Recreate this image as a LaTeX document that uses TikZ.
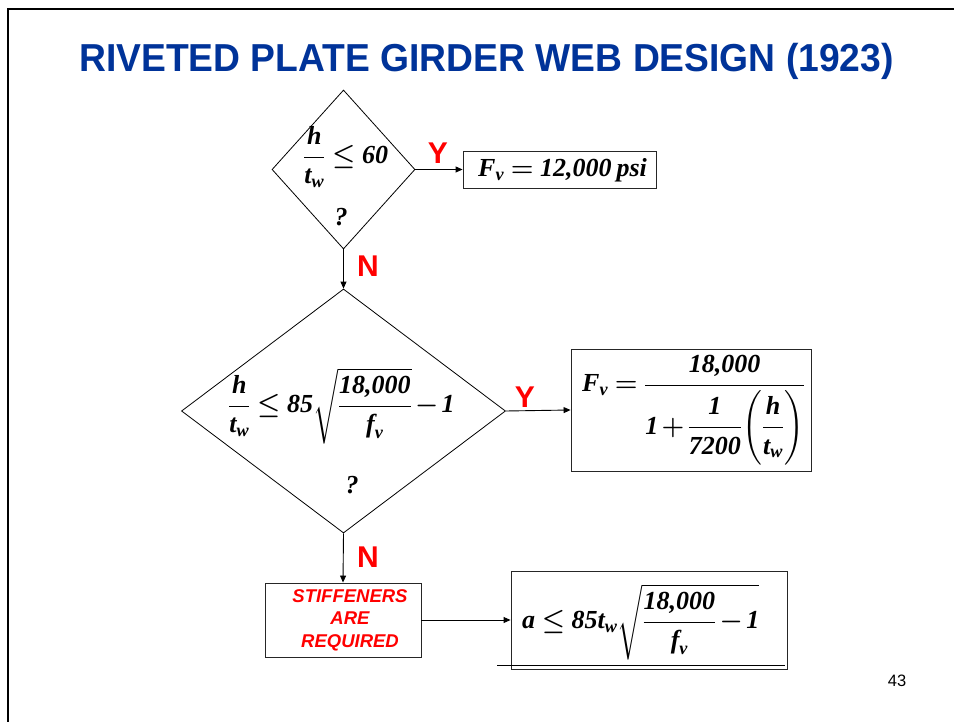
\RequirePackage{fix-cm}
\documentclass[tikz,border=0pt]{standalone}
\usepackage{amsmath}
\usepackage{graphicx}
\usepackage{fontspec}
\setmainfont{Liberation Serif}
\newfontfamily\arialf{Liberation Sans}
\usetikzlibrary{arrows.meta,shapes.geometric}
\definecolor{titleblue}{RGB}{0,51,153}
\newcommand\bi[1]{\text{\bfseries\itshape #1}}
\newcommand\tm{\thickmuskip=4mu\medmuskip=2mu}
\begin{document}
\begin{tikzpicture}[x=1pt,y=-1pt,
  box/.style={draw=black!85, line width=0.9pt, inner sep=0pt},
  dia/.style={draw, shape=diamond, line width=0.8pt, inner sep=0pt},
  arr/.style={line width=0.9pt, -{Triangle[length=7pt,width=6pt]}},
  yn/.style={text=red, font=\arialf\bfseries\fontsize{30}{30}\selectfont, inner sep=0pt},
  mth/.style={font=\fontsize{26}{30}\selectfont\boldmath, inner sep=0pt},
  qm/.style={font=\fontsize{26}{30}\selectfont\bfseries\itshape, inner sep=0pt},
]
\useasboundingbox (0,0) rectangle (954,722);
% frame
\draw[line width=2.5pt] (8,722) -- (8,9) -- (954,9);
% title
\node[text=titleblue, font=\arialf\bfseries\fontsize{39}{42}\selectfont, inner sep=0pt] (title) at (486.5,61) {\scalebox{0.955}[1]{RIVETED PLATE GIRDER WEB DESIGN (1923)}};
% diamonds
\node[dia, minimum width=143pt, minimum height=159pt] (d1) at (343.5,169.5) {};
\node[dia, minimum width=324pt, minimum height=244pt] (d2) at (343.5,411) {};
\node[mth, anchor=west] (t1) at (303,157) {$\tm\dfrac{\bi{h}}{\bi{t}_{\bi{w}}}\leq\bi{60}$};
\node[qm] (q1) at (341,217) {?};
\node[mth, anchor=west] (t2) at (228,406) {$\tm\dfrac{\bi{h}}{\bi{t}_{\bi{w}}}\leq\bi{85}\sqrt{\dfrac{\bi{18,000}}{\bi{f}_{\bi{v}}}}-\bi{1}$};
\node[qm] (q2) at (352,485) {?};
% boxes
\node[box, minimum width=193pt, minimum height=37pt] (b1) at (559.5,169.5) {};
\node[mth, anchor=west] (tb1) at (478,170) {$\tm\bi{F}_{\bi{v}}=\bi{12,000}\,\bi{psi}$};
\node[box, minimum width=240pt, minimum height=122pt] (b2) at (691,410) {};
\node[mth, anchor=west] (tb2) at (582,411) {$\tm\bi{F}_{\bi{v}}=\dfrac{\bi{18,000}}{\bi{1}+\dfrac{\bi{1}}{\bi{7200}}\Biggl(\dfrac{\bi{h}}{\bi{t}_{\bi{w}}}\Biggr)}$};
\node[box, minimum width=156pt, minimum height=74pt] (b3) at (343,620) {};
\node[text=red, font=\arialf\bfseries\itshape\fontsize{18.5}{22.5}\selectfont, align=center, inner sep=0pt] (tb3) at (350,620) {STIFFENERS\\ARE\\REQUIRED};
\node[box, minimum width=276pt, minimum height=98pt] (b4) at (649,620) {};
\node[mth, anchor=west] (tb4) at (522,622) {$\tm\bi{a}\leq\bi{85}\bi{t}_{\bi{w}}\sqrt{\dfrac{\bi{18,000}}{\bi{f}_{\bi{v}}}-\bi{1}}$};
\draw[line width=0.9pt] (497,665) -- (785,665);
% connectors
\draw[arr] (d1.east) -- (b1.west);
\draw[arr] (d1.south) -- (d2.north);
\draw[arr] (d2.east) -- (b2.west);
\draw[arr] (d2.south) -- (b3.north);
\draw[arr] (b3.east) -- (b4.west);
% labels
\node[yn] (y1) at (438,153) {Y};
\node[yn] (n1) at (368,266) {N};
\node[yn] (y2) at (525,397) {Y};
\node[yn] (n2) at (368,557) {N};
% page number
\node[font=\arialf\fontsize{16.5}{18}\selectfont, inner sep=0pt] (pg) at (897,681) {43};
\end{tikzpicture}
\end{document}
